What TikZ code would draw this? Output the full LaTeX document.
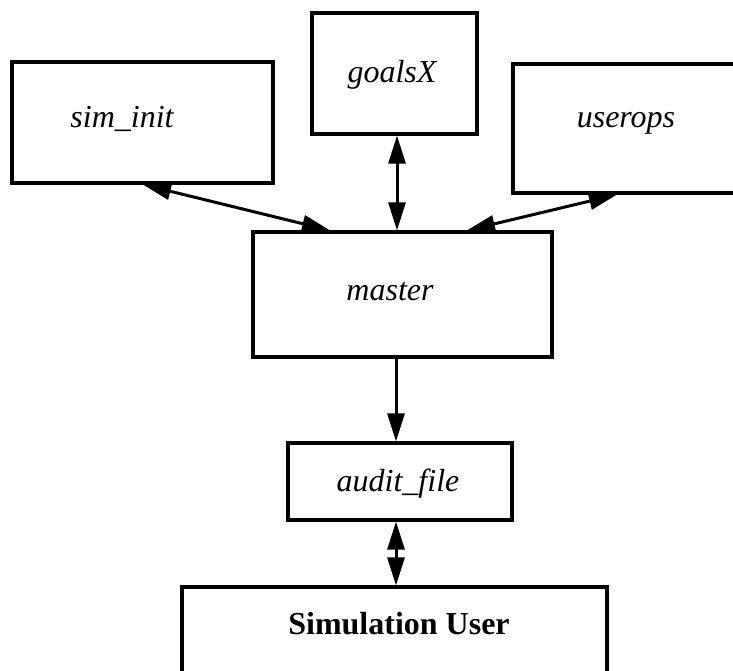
\documentclass[tikz,border=0pt]{standalone}
\usepackage{fontspec}
\setmainfont{Liberation Serif}
\usetikzlibrary{arrows.meta}
\tikzset{
  box/.style={draw, line width=3.2pt, rectangle, inner sep=0pt},
  lbl/.style={inner sep=0pt, font=\fontsize{32}{38}\selectfont\itshape, text height=22pt, text depth=7pt},
  blbl/.style={inner sep=0pt, font=\fontsize{32}{38}\selectfont\bfseries, text height=22pt, text depth=7pt},
  tip/.tip={Triangle[length=28pt,width=17pt]},
  conn/.style={line width=3pt, -tip},
  dconn/.style={line width=3pt, tip-tip}
}
\begin{document}
\begin{tikzpicture}[x=1pt,y=-1pt]
\useasboundingbox (0,0) rectangle (733,671);
\fill[white] (0,0) rectangle (733,671);
\clip (0,0) rectangle (733,671);
% boxes
\node[box, minimum width=261pt, minimum height=121pt] (siminit) at (142.5,122.5) {};
\node[box, minimum width=165pt, minimum height=121pt] (goalsX) at (394.5,73.5) {};
\node[box, minimum width=240pt, minimum height=129pt] (userops) at (633,128.5) {};
\node[box, minimum width=299pt, minimum height=125pt] (master) at (402.5,294.5) {};
\node[box, minimum width=224pt, minimum height=77pt] (audit) at (400,481.5) {};
\node[box, minimum width=425pt, minimum height=140pt] (simuser) at (394.5,657) {};
% labels
\node[lbl] (siminit-t) at (122,120) {sim\_init};
\node[lbl] (goalsX-t) at (392,75) {goalsX};
\node[lbl] (userops-t) at (626,120) {userops};
\node[lbl] (master-t) at (390,293) {master};
\node[lbl] (audit-t) at (398,484) {audit\_file};
\node[blbl] (simuser-t) at (399,627) {Simulation User};
% connectors
\draw[dconn] ([xshift=0.5pt]siminit.south) -- ([xshift=-72.5pt]master.north);
\draw[dconn] ([xshift=2.5pt]goalsX.south) -- ([xshift=2.5pt]goalsX.south |- master.north);
\draw[dconn] ([xshift=-16pt]userops.south) -- ([xshift=64.5pt]master.north);
\draw[conn] ([xshift=-6.5pt]master.south) -- ([xshift=-6.5pt]master.south |- audit.north);
\draw[dconn] ([xshift=-4pt]audit.south) -- ([xshift=-4pt]audit.south |- simuser.north);
\end{tikzpicture}
\end{document}
